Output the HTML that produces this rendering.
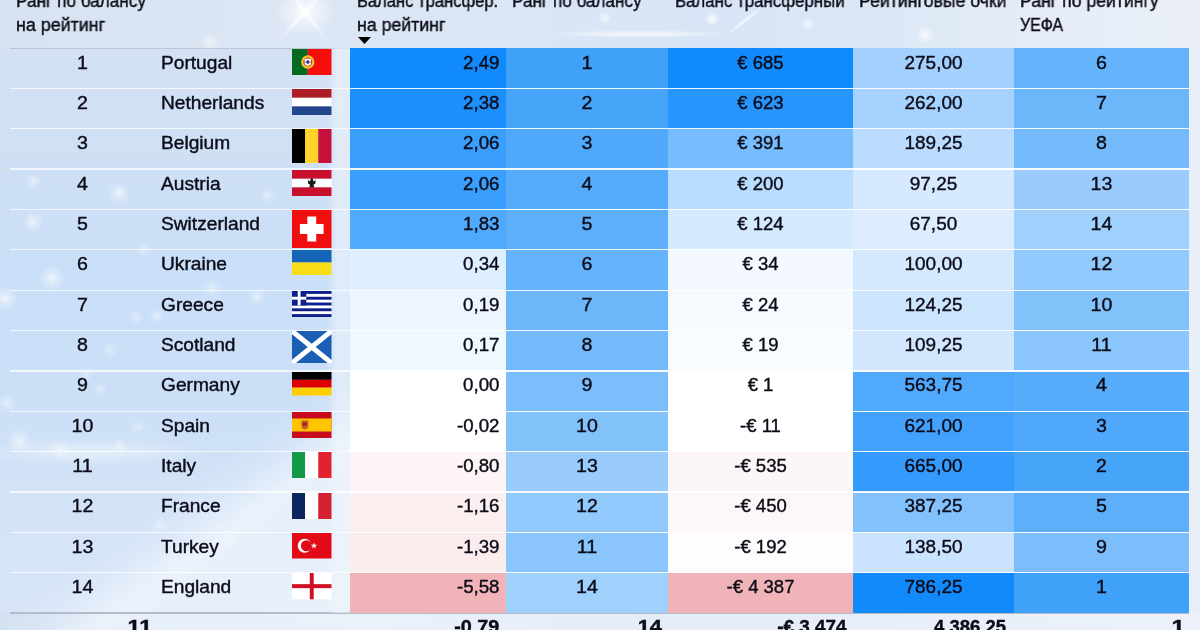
<!DOCTYPE html>
<html><head><meta charset="utf-8"><style>
*{margin:0;padding:0;box-sizing:border-box}
html,body{width:1200px;height:630px;overflow:hidden}
body{position:relative;font-family:"Liberation Sans",sans-serif;color:#0c0c18;
background:linear-gradient(90deg,#d3e1f2 0%,#dbe6f4 30%,#e2eaf5 60%,#e9eff8 100%);}
.bg{position:absolute}
.c{position:absolute}
.sep{position:absolute;height:1.3px;background:rgba(255,255,255,0.92)}
.t{position:absolute;will-change:transform;-webkit-text-stroke:0.4px #0c0c18;font-size:18.5px;line-height:40px;white-space:nowrap}
.sx{transform:scaleX(1.06);transform-origin:left center}
.ctr.sx{transform-origin:center center}
.rgt.sx{transform-origin:right center}
.ctr{text-align:center}
.rgt{text-align:right}
.h{position:absolute;will-change:transform;-webkit-text-stroke:0.4px #0c0c18;font-size:18.0px;line-height:24px;white-space:nowrap;transform-origin:left center}
.b{font-weight:bold}
</style></head><body>
<div class="bg" style="left:0;top:0;width:1200px;height:48px;background:linear-gradient(90deg,#d8e3f2 0%,#dce6f4 25%,#dae6f5 45%,#d8e5f6 60%,#dde8f6 75%,#e6edf7 88%,#ebf0f8 100%)"></div>
<div class="bg" style="left:540px;top:26px;width:200px;height:16px;background:radial-gradient(ellipse 95px 4px at 100px 8px,rgba(255,255,255,0.8),rgba(255,255,255,0))"></div>
<div class="bg" style="left:720px;top:18px;width:50px;height:5px;transform:rotate(-38deg);background:radial-gradient(ellipse 25px 2px at 25px 2.5px,rgba(255,255,255,0.85),rgba(255,255,255,0))"></div>
<div class="bg" style="left:0;top:0;width:1200px;height:48px;background:radial-gradient(circle 8px at 712px 19px,rgba(255,255,255,0.8),rgba(255,255,255,0)),radial-gradient(circle 7px at 808px 24px,rgba(255,255,255,0.6),rgba(255,255,255,0)),radial-gradient(circle 9px at 925px 35px,rgba(255,255,255,0.8),rgba(255,255,255,0)),radial-gradient(circle 7px at 605px 18px,rgba(255,255,255,0.6),rgba(255,255,255,0))"></div>
<div class="bg" style="left:0;top:48px;width:350px;height:565px;background:linear-gradient(180deg,#d3e1f3 0%,#cfe0f5 20%,#cadff8 40%,#cbdff7 62%,#d3e3f7 80%,#d8e5f8 100%)"></div>
<div class="bg" style="left:0;top:300px;width:350px;height:330px;background:linear-gradient(-36deg,rgba(236,242,250,0.9) 0%,rgba(234,241,250,0.8) 26%,rgba(250,252,255,0.6) 32%,rgba(255,255,255,0.15) 39%,rgba(255,255,255,0) 45%)"></div>
<div class="bg" style="left:0;top:420px;width:230px;height:60px;background:radial-gradient(ellipse 120px 14px at 90px 32px,rgba(255,255,255,0.45),rgba(255,255,255,0))"></div>
<div class="bg" style="left:350px;top:613px;width:850px;height:17px;background:linear-gradient(90deg,rgba(240,245,252,0.8) 0%,rgba(240,245,252,0.5) 20%,rgba(240,245,252,0.2) 40%,rgba(240,245,252,0.3) 70%,rgba(240,245,252,0.4) 100%)"></div>
<div class="bg" style="left:225px;top:-28px;width:160px;height:80px;background:radial-gradient(ellipse 30px 24px at 80px 40px,rgba(255,255,255,1),rgba(255,255,255,0.55) 35%,rgba(255,255,255,0) 100%)"></div>
<div class="bg" style="left:265px;top:9px;width:80px;height:6px;transform:rotate(-48deg);background:radial-gradient(ellipse 40px 3px at 40px 3px,rgba(255,255,255,0.9),rgba(255,255,255,0))"></div>
<div class="bg" style="left:265px;top:9px;width:80px;height:6px;transform:rotate(52deg);background:radial-gradient(ellipse 40px 3px at 40px 3px,rgba(255,255,255,0.9),rgba(255,255,255,0))"></div>
<div class="c" style="left:10px;top:47.5px;width:1179px;height:1.2px;background:#bcc5d3"></div>
<div class="c" style="left:10px;top:612.2px;width:1179px;height:1.6px;background:#b3bcc8"></div>
<div class="bg" style="left:0;top:0;width:350px;height:630px;background:radial-gradient(circle 8px at 33px 181px,rgba(255,255,255,0.5),rgba(255,255,255,0.25) 40%,rgba(255,255,255,0) 100%),radial-gradient(circle 11px at 119px 193px,rgba(255,255,255,0.7),rgba(255,255,255,0.35) 40%,rgba(255,255,255,0) 100%),radial-gradient(circle 11px at 33px 222px,rgba(255,255,255,0.65),rgba(255,255,255,0.33) 40%,rgba(255,255,255,0) 100%),radial-gradient(circle 13px at 52px 278px,rgba(255,255,255,0.7),rgba(255,255,255,0.35) 40%,rgba(255,255,255,0) 100%),radial-gradient(circle 13px at 5px 298px,rgba(255,255,255,0.7),rgba(255,255,255,0.35) 40%,rgba(255,255,255,0) 100%),radial-gradient(circle 8px at 143px 250px,rgba(255,255,255,0.4),rgba(255,255,255,0.20) 40%,rgba(255,255,255,0) 100%),radial-gradient(circle 8px at 136px 317px,rgba(255,255,255,0.4),rgba(255,255,255,0.20) 40%,rgba(255,255,255,0) 100%),radial-gradient(circle 8px at 110px 350px,rgba(255,255,255,0.4),rgba(255,255,255,0.20) 40%,rgba(255,255,255,0) 100%),radial-gradient(circle 10px at 7px 403px,rgba(255,255,255,0.5),rgba(255,255,255,0.25) 40%,rgba(255,255,255,0) 100%),radial-gradient(circle 8px at 86px 374px,rgba(255,255,255,0.4),rgba(255,255,255,0.20) 40%,rgba(255,255,255,0) 100%),radial-gradient(circle 8px at 100px 389px,rgba(255,255,255,0.4),rgba(255,255,255,0.20) 40%,rgba(255,255,255,0) 100%),radial-gradient(circle 13px at 19px 441px,rgba(255,255,255,0.6),rgba(255,255,255,0.30) 40%,rgba(255,255,255,0) 100%),radial-gradient(circle 8px at 138px 427px,rgba(255,255,255,0.4),rgba(255,255,255,0.20) 40%,rgba(255,255,255,0) 100%),radial-gradient(circle 8px at 119px 446px,rgba(255,255,255,0.45),rgba(255,255,255,0.23) 40%,rgba(255,255,255,0) 100%),radial-gradient(circle 11px at 60px 450px,rgba(255,255,255,0.5),rgba(255,255,255,0.25) 40%,rgba(255,255,255,0) 100%),radial-gradient(circle 10px at 210px 42px,rgba(255,255,255,0.6),rgba(255,255,255,0.30) 40%,rgba(255,255,255,0) 100%),radial-gradient(circle 8px at 157px 316px,rgba(255,255,255,0.45),rgba(255,255,255,0.23) 40%,rgba(255,255,255,0) 100%),radial-gradient(circle 10px at 212px 288px,rgba(255,255,255,0.5),rgba(255,255,255,0.25) 40%,rgba(255,255,255,0) 100%),radial-gradient(circle 10px at 257px 297px,rgba(255,255,255,0.5),rgba(255,255,255,0.25) 40%,rgba(255,255,255,0) 100%),radial-gradient(circle 8px at 267px 195px,rgba(255,255,255,0.45),rgba(255,255,255,0.23) 40%,rgba(255,255,255,0) 100%),radial-gradient(circle 10px at 230px 540px,rgba(255,255,255,0.4),rgba(255,255,255,0.20) 40%,rgba(255,255,255,0) 100%),radial-gradient(circle 8px at 160px 525px,rgba(255,255,255,0.35),rgba(255,255,255,0.17) 40%,rgba(255,255,255,0) 100%)"></div>
<div class="bg" style="left:326px;top:48px;width:24px;height:565px;background:linear-gradient(90deg,rgba(240,245,252,0) 0%,rgba(240,245,252,0.6) 50%,rgba(240,245,252,0.5) 100%)"></div>
<div class="c" style="left:350px;top:48.00px;width:156px;height:40.36px;background:#108afc"></div><div class="c" style="left:506px;top:48.00px;width:162px;height:40.36px;background:#40a1f9"></div><div class="c" style="left:668px;top:48.00px;width:185px;height:40.36px;background:#108afc"></div><div class="c" style="left:853px;top:48.00px;width:161px;height:40.36px;background:#a3d0fd"></div><div class="c" style="left:1014px;top:48.00px;width:175px;height:40.36px;background:#65b3fa"></div><div class="c" style="left:350px;top:88.36px;width:156px;height:40.36px;background:#1b8ffc"></div><div class="c" style="left:506px;top:88.36px;width:162px;height:40.36px;background:#47a5f9"></div><div class="c" style="left:668px;top:88.36px;width:185px;height:40.36px;background:#2695fc"></div><div class="c" style="left:853px;top:88.36px;width:161px;height:40.36px;background:#a7d2fd"></div><div class="c" style="left:1014px;top:88.36px;width:175px;height:40.36px;background:#6cb7fa"></div><div class="c" style="left:350px;top:128.71px;width:156px;height:40.36px;background:#399efd"></div><div class="c" style="left:506px;top:128.71px;width:162px;height:40.36px;background:#4fa8f9"></div><div class="c" style="left:668px;top:128.71px;width:185px;height:40.36px;background:#77bcfd"></div><div class="c" style="left:853px;top:128.71px;width:161px;height:40.36px;background:#bbdcfe"></div><div class="c" style="left:1014px;top:128.71px;width:175px;height:40.36px;background:#74bafb"></div><div class="c" style="left:350px;top:169.07px;width:156px;height:40.36px;background:#399efd"></div><div class="c" style="left:506px;top:169.07px;width:162px;height:40.36px;background:#56acfa"></div><div class="c" style="left:668px;top:169.07px;width:185px;height:40.36px;background:#b9ddfe"></div><div class="c" style="left:853px;top:169.07px;width:161px;height:40.36px;background:#d6e9fe"></div><div class="c" style="left:1014px;top:169.07px;width:175px;height:40.36px;background:#99ccfc"></div><div class="c" style="left:350px;top:209.43px;width:156px;height:40.36px;background:#4fa9fd"></div><div class="c" style="left:506px;top:209.43px;width:162px;height:40.36px;background:#5eaffa"></div><div class="c" style="left:668px;top:209.43px;width:185px;height:40.36px;background:#d4eafe"></div><div class="c" style="left:853px;top:209.43px;width:161px;height:40.36px;background:#deedfe"></div><div class="c" style="left:1014px;top:209.43px;width:175px;height:40.36px;background:#a0d0fc"></div><div class="c" style="left:350px;top:249.78px;width:156px;height:40.36px;background:#deefff"></div><div class="c" style="left:506px;top:249.78px;width:162px;height:40.36px;background:#65b3fa"></div><div class="c" style="left:668px;top:249.78px;width:185px;height:40.36px;background:#f3f9ff"></div><div class="c" style="left:853px;top:249.78px;width:161px;height:40.36px;background:#d5e9fe"></div><div class="c" style="left:1014px;top:249.78px;width:175px;height:40.36px;background:#91c9fc"></div><div class="c" style="left:350px;top:290.14px;width:156px;height:40.36px;background:#edf6ff"></div><div class="c" style="left:506px;top:290.14px;width:162px;height:40.36px;background:#6cb7fa"></div><div class="c" style="left:668px;top:290.14px;width:185px;height:40.36px;background:#f7fbff"></div><div class="c" style="left:853px;top:290.14px;width:161px;height:40.36px;background:#cee5fe"></div><div class="c" style="left:1014px;top:290.14px;width:175px;height:40.36px;background:#82c2fb"></div><div class="c" style="left:350px;top:330.50px;width:156px;height:40.36px;background:#eff7ff"></div><div class="c" style="left:506px;top:330.50px;width:162px;height:40.36px;background:#74bafb"></div><div class="c" style="left:668px;top:330.50px;width:185px;height:40.36px;background:#f8fcff"></div><div class="c" style="left:853px;top:330.50px;width:161px;height:40.36px;background:#d2e7fe"></div><div class="c" style="left:1014px;top:330.50px;width:175px;height:40.36px;background:#8ac5fb"></div><div class="c" style="left:350px;top:370.86px;width:156px;height:40.36px;background:#ffffff"></div><div class="c" style="left:506px;top:370.86px;width:162px;height:40.36px;background:#7bbefb"></div><div class="c" style="left:668px;top:370.86px;width:185px;height:40.36px;background:#ffffff"></div><div class="c" style="left:853px;top:370.86px;width:161px;height:40.36px;background:#51a9fd"></div><div class="c" style="left:1014px;top:370.86px;width:175px;height:40.36px;background:#56acfa"></div><div class="c" style="left:350px;top:411.21px;width:156px;height:40.36px;background:#ffffff"></div><div class="c" style="left:506px;top:411.21px;width:162px;height:40.36px;background:#82c2fb"></div><div class="c" style="left:668px;top:411.21px;width:185px;height:40.36px;background:#ffffff"></div><div class="c" style="left:853px;top:411.21px;width:161px;height:40.36px;background:#41a1fc"></div><div class="c" style="left:1014px;top:411.21px;width:175px;height:40.36px;background:#4fa8f9"></div><div class="c" style="left:350px;top:451.57px;width:156px;height:40.36px;background:#fdf4f5"></div><div class="c" style="left:506px;top:451.57px;width:162px;height:40.36px;background:#99ccfc"></div><div class="c" style="left:668px;top:451.57px;width:185px;height:40.36px;background:#fdf6f6"></div><div class="c" style="left:853px;top:451.57px;width:161px;height:40.36px;background:#349bfc"></div><div class="c" style="left:1014px;top:451.57px;width:175px;height:40.36px;background:#47a5f9"></div><div class="c" style="left:350px;top:491.93px;width:156px;height:40.36px;background:#fceff0"></div><div class="c" style="left:506px;top:491.93px;width:162px;height:40.36px;background:#91c9fc"></div><div class="c" style="left:668px;top:491.93px;width:185px;height:40.36px;background:#fdf7f8"></div><div class="c" style="left:853px;top:491.93px;width:161px;height:40.36px;background:#83c1fd"></div><div class="c" style="left:1014px;top:491.93px;width:175px;height:40.36px;background:#5eaffa"></div><div class="c" style="left:350px;top:532.28px;width:156px;height:40.36px;background:#fbeced"></div><div class="c" style="left:506px;top:532.28px;width:162px;height:40.36px;background:#8ac5fb"></div><div class="c" style="left:668px;top:532.28px;width:185px;height:40.36px;background:#fefcfc"></div><div class="c" style="left:853px;top:532.28px;width:161px;height:40.36px;background:#cae3fe"></div><div class="c" style="left:1014px;top:532.28px;width:175px;height:40.36px;background:#7bbefb"></div><div class="c" style="left:350px;top:572.64px;width:156px;height:40.36px;background:#f0b4b8"></div><div class="c" style="left:506px;top:572.64px;width:162px;height:40.36px;background:#a0d0fc"></div><div class="c" style="left:668px;top:572.64px;width:185px;height:40.36px;background:#f0b4b8"></div><div class="c" style="left:853px;top:572.64px;width:161px;height:40.36px;background:#128afc"></div><div class="c" style="left:1014px;top:572.64px;width:175px;height:40.36px;background:#40a1f9"></div>
<div class="sep" style="left:10px;width:340px;top:87.76px;background:rgba(255,255,255,0.75)"></div><div class="sep" style="left:350px;width:839px;top:87.76px"></div><div class="sep" style="left:10px;width:340px;top:128.11px;background:rgba(255,255,255,0.75)"></div><div class="sep" style="left:350px;width:839px;top:128.11px"></div><div class="sep" style="left:10px;width:340px;top:168.47px;background:rgba(255,255,255,0.75)"></div><div class="sep" style="left:350px;width:839px;top:168.47px"></div><div class="sep" style="left:10px;width:340px;top:208.83px;background:rgba(255,255,255,0.75)"></div><div class="sep" style="left:350px;width:839px;top:208.83px"></div><div class="sep" style="left:10px;width:340px;top:249.19px;background:rgba(255,255,255,0.75)"></div><div class="sep" style="left:350px;width:839px;top:249.19px"></div><div class="sep" style="left:10px;width:340px;top:289.54px;background:rgba(255,255,255,0.75)"></div><div class="sep" style="left:350px;width:839px;top:289.54px"></div><div class="sep" style="left:10px;width:340px;top:329.90px;background:rgba(255,255,255,0.75)"></div><div class="sep" style="left:350px;width:839px;top:329.90px"></div><div class="sep" style="left:10px;width:340px;top:370.26px;background:rgba(255,255,255,0.75)"></div><div class="sep" style="left:350px;width:839px;top:370.26px"></div><div class="sep" style="left:10px;width:340px;top:410.61px;background:rgba(255,255,255,0.75)"></div><div class="sep" style="left:350px;width:839px;top:410.61px"></div><div class="sep" style="left:10px;width:340px;top:450.97px;background:rgba(255,255,255,0.75)"></div><div class="sep" style="left:350px;width:839px;top:450.97px"></div><div class="sep" style="left:10px;width:340px;top:491.33px;background:rgba(255,255,255,0.75)"></div><div class="sep" style="left:350px;width:839px;top:491.33px"></div><div class="sep" style="left:10px;width:340px;top:531.68px;background:rgba(255,255,255,0.75)"></div><div class="sep" style="left:350px;width:839px;top:531.68px"></div><div class="sep" style="left:10px;width:340px;top:572.04px;background:rgba(255,255,255,0.75)"></div><div class="sep" style="left:350px;width:839px;top:572.04px"></div>
<svg style="position:absolute;left:292.3px;top:48.6px" width="39.5" height="26" viewBox="0 0 40 26" preserveAspectRatio="none"><rect width="16" height="26" fill="#05691f"/><rect x="16" width="24" height="26" fill="#f70d0d"/><circle cx="16" cy="13.0" r="5.6" fill="#e03018" stroke="#f0c830" stroke-width="2.2"/><path d="M12.8 9.8H19.2V14.0Q19.2 16.6 16 16.8Q12.8 16.6 12.8 14.0Z" fill="#fff"/><rect x="15" y="11.2" width="2" height="3.6" fill="#2a40a0"/><rect x="13.6" y="12.4" width="4.8" height="1.4" fill="#2a40a0"/></svg><svg style="position:absolute;left:292.3px;top:89px" width="39.5" height="26" viewBox="0 0 40 26" preserveAspectRatio="none"><rect width="40" height="26" fill="#fff"/><rect width="40" height="8.666666666666666" fill="#ae1c28"/><rect y="17.333333333333332" width="40" height="8.666666666666666" fill="#21468b"/></svg><svg style="position:absolute;left:292.3px;top:129.3px" width="39.5" height="34" viewBox="0 0 40 34" preserveAspectRatio="none"><rect width="13.4" height="34" fill="#000"/><rect x="13.3" width="13.4" height="34" fill="#fdd42a"/><rect x="26.6" width="13.4" height="34" fill="#c8103c"/></svg><svg style="position:absolute;left:292.3px;top:170px" width="39.5" height="26" viewBox="0 0 40 26" preserveAspectRatio="none"><rect width="40" height="26" fill="#fff"/><rect width="40" height="8.666666666666666" fill="#c8102e"/><rect y="17.333333333333332" width="40" height="8.666666666666666" fill="#c8102e"/><path d="M16 9.5Q17.5 12.0 18.5 11.0L18.8 8.5L21.2 8.5L21.5 11.0Q22.5 12.0 24 9.5L23.5 14.0L21.8 14.5L22.5 17.5L17.5 17.5L18.2 14.5L16.5 14.0Z" fill="#1a1a1a"/></svg><svg style="position:absolute;left:292.3px;top:210.2px" width="39.5" height="38" viewBox="0 0 40 38" preserveAspectRatio="none"><rect width="40" height="38" fill="#f00e0e"/><rect x="8" y="14.0" width="24" height="10" fill="#fff"/><rect x="15.5" y="6.5" width="9" height="25" fill="#fff"/></svg><svg style="position:absolute;left:292.3px;top:250.3px" width="39.5" height="25" viewBox="0 0 40 25" preserveAspectRatio="none"><rect width="40" height="12.5" fill="#1565b8"/><rect y="12.5" width="40" height="12.5" fill="#f7dc16"/></svg><svg style="position:absolute;left:292.3px;top:290.9px" width="39.5" height="26" viewBox="0 0 40 26" preserveAspectRatio="none"><rect width="40" height="26" fill="#fff"/><rect y="0.00" width="40" height="2.89" fill="#0c1f8c"/><rect y="5.78" width="40" height="2.89" fill="#0c1f8c"/><rect y="11.56" width="40" height="2.89" fill="#0c1f8c"/><rect y="17.33" width="40" height="2.89" fill="#0c1f8c"/><rect y="23.11" width="40" height="2.89" fill="#0c1f8c"/><rect width="14.44" height="14.44" fill="#0c1f8c"/><rect x="5.78" width="2.89" height="14.44" fill="#fff"/><rect y="5.78" width="14.44" height="2.89" fill="#fff"/></svg><svg style="position:absolute;left:292.3px;top:331px" width="39.5" height="32" viewBox="0 0 40 32" preserveAspectRatio="none"><rect width="40" height="32" fill="#1a5fb4"/><path d="M0 0L40 32M40 0L0 32" stroke="#fff" stroke-width="5"/></svg><svg style="position:absolute;left:292.3px;top:372px" width="39.5" height="23.5" viewBox="0 0 40 23.5" preserveAspectRatio="none"><rect width="40" height="7.833333333333333" fill="#000"/><rect y="7.833333333333333" width="40" height="7.833333333333333" fill="#dd0000"/><rect y="15.666666666666666" width="40" height="7.833333333333333" fill="#ffce00"/></svg><svg style="position:absolute;left:292.3px;top:412px" width="39.5" height="26" viewBox="0 0 40 26" preserveAspectRatio="none"><rect width="40" height="26" fill="#c60b1e"/><rect y="6.5" width="40" height="13.0" fill="#ffc400"/><path d="M9.5 8.5h7v5.5q0 3-3.5 3.5q-3.5-.5-3.5-3.5z" fill="#c0602a"/><rect x="11" y="10.5" width="4" height="3" fill="#b01828"/></svg><svg style="position:absolute;left:292.3px;top:452.2px" width="39.5" height="26.3" viewBox="0 0 40 26.3" preserveAspectRatio="none"><rect width="13.4" height="26.3" fill="#139a48"/><rect x="13.3" width="13.4" height="26.3" fill="#fff"/><rect x="26.6" width="13.4" height="26.3" fill="#e2222e"/></svg><svg style="position:absolute;left:292.3px;top:492.7px" width="39.5" height="26" viewBox="0 0 40 26" preserveAspectRatio="none"><rect width="13.4" height="26" fill="#0c2460"/><rect x="13.3" width="13.4" height="26" fill="#fff"/><rect x="26.6" width="13.4" height="26" fill="#d42030"/></svg><svg style="position:absolute;left:292.3px;top:533px" width="39.5" height="25.5" viewBox="0 0 40 25.5" preserveAspectRatio="none"><rect width="40" height="25.5" fill="#e30a17"/><circle cx="12.8" cy="12.75" r="7" fill="#fff"/><circle cx="14.6" cy="12.75" r="5.6" fill="#e30a17"/><polygon points="22.30,9.45 23.08,11.68 25.44,11.73 23.56,13.16 24.24,15.42 22.30,14.07 20.36,15.42 21.04,13.16 19.16,11.73 21.52,11.68" fill="#fff"/></svg><svg style="position:absolute;left:292.3px;top:573.3px" width="39.5" height="26.3" viewBox="0 0 40 26.3" preserveAspectRatio="none"><rect width="40" height="26.3" fill="#fff"/><rect x="18" width="4" height="26.3" fill="#ce1124"/><rect y="11.15" width="40" height="4" fill="#ce1124"/></svg>
<div class="t ctr sx" style="left:10px;width:145px;top:42.50px">1</div><div class="t" style="left:161.4px;top:42.50px;transform:scaleX(1.035);transform-origin:left center">Portugal</div><div class="t rgt" style="left:350px;width:149.5px;top:42.50px;transform:scaleX(1.01);transform-origin:right center">2,49</div><div class="t ctr sx" style="left:506px;width:162px;top:42.50px">1</div><div class="t ctr" style="left:668px;width:185px;top:42.50px">€ 685</div><div class="t ctr" style="left:853px;width:161px;top:42.50px;transform:scaleX(1.025)">275,00</div><div class="t ctr sx" style="left:1014px;width:175px;top:42.50px">6</div><div class="t ctr sx" style="left:10px;width:145px;top:82.86px">2</div><div class="t" style="left:161.4px;top:82.86px;transform:scaleX(1.035);transform-origin:left center">Netherlands</div><div class="t rgt" style="left:350px;width:149.5px;top:82.86px;transform:scaleX(1.01);transform-origin:right center">2,38</div><div class="t ctr sx" style="left:506px;width:162px;top:82.86px">2</div><div class="t ctr" style="left:668px;width:185px;top:82.86px">€ 623</div><div class="t ctr" style="left:853px;width:161px;top:82.86px;transform:scaleX(1.025)">262,00</div><div class="t ctr sx" style="left:1014px;width:175px;top:82.86px">7</div><div class="t ctr sx" style="left:10px;width:145px;top:123.21px">3</div><div class="t" style="left:161.4px;top:123.21px;transform:scaleX(1.035);transform-origin:left center">Belgium</div><div class="t rgt" style="left:350px;width:149.5px;top:123.21px;transform:scaleX(1.01);transform-origin:right center">2,06</div><div class="t ctr sx" style="left:506px;width:162px;top:123.21px">3</div><div class="t ctr" style="left:668px;width:185px;top:123.21px">€ 391</div><div class="t ctr" style="left:853px;width:161px;top:123.21px;transform:scaleX(1.025)">189,25</div><div class="t ctr sx" style="left:1014px;width:175px;top:123.21px">8</div><div class="t ctr sx" style="left:10px;width:145px;top:163.57px">4</div><div class="t" style="left:161.4px;top:163.57px;transform:scaleX(1.035);transform-origin:left center">Austria</div><div class="t rgt" style="left:350px;width:149.5px;top:163.57px;transform:scaleX(1.01);transform-origin:right center">2,06</div><div class="t ctr sx" style="left:506px;width:162px;top:163.57px">4</div><div class="t ctr" style="left:668px;width:185px;top:163.57px">€ 200</div><div class="t ctr" style="left:853px;width:161px;top:163.57px;transform:scaleX(1.025)">97,25</div><div class="t ctr sx" style="left:1014px;width:175px;top:163.57px">13</div><div class="t ctr sx" style="left:10px;width:145px;top:203.93px">5</div><div class="t" style="left:161.4px;top:203.93px;transform:scaleX(1.035);transform-origin:left center">Switzerland</div><div class="t rgt" style="left:350px;width:149.5px;top:203.93px;transform:scaleX(1.01);transform-origin:right center">1,83</div><div class="t ctr sx" style="left:506px;width:162px;top:203.93px">5</div><div class="t ctr" style="left:668px;width:185px;top:203.93px">€ 124</div><div class="t ctr" style="left:853px;width:161px;top:203.93px;transform:scaleX(1.025)">67,50</div><div class="t ctr sx" style="left:1014px;width:175px;top:203.93px">14</div><div class="t ctr sx" style="left:10px;width:145px;top:244.28px">6</div><div class="t" style="left:161.4px;top:244.28px;transform:scaleX(1.035);transform-origin:left center">Ukraine</div><div class="t rgt" style="left:350px;width:149.5px;top:244.28px;transform:scaleX(1.01);transform-origin:right center">0,34</div><div class="t ctr sx" style="left:506px;width:162px;top:244.28px">6</div><div class="t ctr" style="left:668px;width:185px;top:244.28px">€ 34</div><div class="t ctr" style="left:853px;width:161px;top:244.28px;transform:scaleX(1.025)">100,00</div><div class="t ctr sx" style="left:1014px;width:175px;top:244.28px">12</div><div class="t ctr sx" style="left:10px;width:145px;top:284.64px">7</div><div class="t" style="left:161.4px;top:284.64px;transform:scaleX(1.035);transform-origin:left center">Greece</div><div class="t rgt" style="left:350px;width:149.5px;top:284.64px;transform:scaleX(1.01);transform-origin:right center">0,19</div><div class="t ctr sx" style="left:506px;width:162px;top:284.64px">7</div><div class="t ctr" style="left:668px;width:185px;top:284.64px">€ 24</div><div class="t ctr" style="left:853px;width:161px;top:284.64px;transform:scaleX(1.025)">124,25</div><div class="t ctr sx" style="left:1014px;width:175px;top:284.64px">10</div><div class="t ctr sx" style="left:10px;width:145px;top:325.00px">8</div><div class="t" style="left:161.4px;top:325.00px;transform:scaleX(1.035);transform-origin:left center">Scotland</div><div class="t rgt" style="left:350px;width:149.5px;top:325.00px;transform:scaleX(1.01);transform-origin:right center">0,17</div><div class="t ctr sx" style="left:506px;width:162px;top:325.00px">8</div><div class="t ctr" style="left:668px;width:185px;top:325.00px">€ 19</div><div class="t ctr" style="left:853px;width:161px;top:325.00px;transform:scaleX(1.025)">109,25</div><div class="t ctr sx" style="left:1014px;width:175px;top:325.00px">11</div><div class="t ctr sx" style="left:10px;width:145px;top:365.36px">9</div><div class="t" style="left:161.4px;top:365.36px;transform:scaleX(1.035);transform-origin:left center">Germany</div><div class="t rgt" style="left:350px;width:149.5px;top:365.36px;transform:scaleX(1.01);transform-origin:right center">0,00</div><div class="t ctr sx" style="left:506px;width:162px;top:365.36px">9</div><div class="t ctr" style="left:668px;width:185px;top:365.36px">€ 1</div><div class="t ctr" style="left:853px;width:161px;top:365.36px;transform:scaleX(1.025)">563,75</div><div class="t ctr sx" style="left:1014px;width:175px;top:365.36px">4</div><div class="t ctr sx" style="left:10px;width:145px;top:405.71px">10</div><div class="t" style="left:161.4px;top:405.71px;transform:scaleX(1.035);transform-origin:left center">Spain</div><div class="t rgt" style="left:350px;width:149.5px;top:405.71px;transform:scaleX(1.01);transform-origin:right center">-0,02</div><div class="t ctr sx" style="left:506px;width:162px;top:405.71px">10</div><div class="t ctr" style="left:668px;width:185px;top:405.71px">-€ 11</div><div class="t ctr" style="left:853px;width:161px;top:405.71px;transform:scaleX(1.025)">621,00</div><div class="t ctr sx" style="left:1014px;width:175px;top:405.71px">3</div><div class="t ctr sx" style="left:10px;width:145px;top:446.07px">11</div><div class="t" style="left:161.4px;top:446.07px;transform:scaleX(1.035);transform-origin:left center">Italy</div><div class="t rgt" style="left:350px;width:149.5px;top:446.07px;transform:scaleX(1.01);transform-origin:right center">-0,80</div><div class="t ctr sx" style="left:506px;width:162px;top:446.07px">13</div><div class="t ctr" style="left:668px;width:185px;top:446.07px">-€ 535</div><div class="t ctr" style="left:853px;width:161px;top:446.07px;transform:scaleX(1.025)">665,00</div><div class="t ctr sx" style="left:1014px;width:175px;top:446.07px">2</div><div class="t ctr sx" style="left:10px;width:145px;top:486.43px">12</div><div class="t" style="left:161.4px;top:486.43px;transform:scaleX(1.035);transform-origin:left center">France</div><div class="t rgt" style="left:350px;width:149.5px;top:486.43px;transform:scaleX(1.01);transform-origin:right center">-1,16</div><div class="t ctr sx" style="left:506px;width:162px;top:486.43px">12</div><div class="t ctr" style="left:668px;width:185px;top:486.43px">-€ 450</div><div class="t ctr" style="left:853px;width:161px;top:486.43px;transform:scaleX(1.025)">387,25</div><div class="t ctr sx" style="left:1014px;width:175px;top:486.43px">5</div><div class="t ctr sx" style="left:10px;width:145px;top:526.78px">13</div><div class="t" style="left:161.4px;top:526.78px;transform:scaleX(1.035);transform-origin:left center">Turkey</div><div class="t rgt" style="left:350px;width:149.5px;top:526.78px;transform:scaleX(1.01);transform-origin:right center">-1,39</div><div class="t ctr sx" style="left:506px;width:162px;top:526.78px">11</div><div class="t ctr" style="left:668px;width:185px;top:526.78px">-€ 192</div><div class="t ctr" style="left:853px;width:161px;top:526.78px;transform:scaleX(1.025)">138,50</div><div class="t ctr sx" style="left:1014px;width:175px;top:526.78px">9</div><div class="t ctr sx" style="left:10px;width:145px;top:567.14px">14</div><div class="t" style="left:161.4px;top:567.14px;transform:scaleX(1.035);transform-origin:left center">England</div><div class="t rgt" style="left:350px;width:149.5px;top:567.14px;transform:scaleX(1.01);transform-origin:right center">-5,58</div><div class="t ctr sx" style="left:506px;width:162px;top:567.14px">14</div><div class="t ctr" style="left:668px;width:185px;top:567.14px">-€ 4 387</div><div class="t ctr" style="left:853px;width:161px;top:567.14px;transform:scaleX(1.025)">786,25</div><div class="t ctr sx" style="left:1014px;width:175px;top:567.14px">1</div>
<div class="h" style="left:15.9px;top:-10.6px;transform:scaleX(0.956)">Ранг по балансу</div><div class="h" style="left:15.9px;top:13.4px;transform:scaleX(0.992)">на рейтинг</div><div class="h" style="left:356.8px;top:-10.6px;transform:scaleX(0.921)">Баланс трансфер.</div><div class="h" style="left:356.8px;top:13.4px;transform:scaleX(0.984)">на рейтинг</div><div class="h" style="left:512.0px;top:-10.6px;transform:scaleX(0.953)">Ранг по балансу</div><div class="h" style="left:674.5px;top:-10.6px;transform:scaleX(0.936)">Баланс трансферный</div><div class="h" style="left:859.4px;top:-10.6px;transform:scaleX(0.983)">Рейтинговые очки</div><div class="h" style="left:1019.8px;top:-10.6px;transform:scaleX(0.980)">Ранг по рейтингу</div><div class="h" style="left:1019.8px;top:13.4px;transform:scaleX(0.882)">УЕФА</div>
<svg style="position:absolute;left:357.5px;top:36.7px" width="13" height="7"><path d="M0 0H13L6.5 7Z" fill="#000"/></svg>
<div class="t b rgt" style="left:10px;width:142px;top:607.0px;transform:scaleX(1.25);transform-origin:right center">11</div>
<div class="t b rgt" style="left:350px;width:149.3px;top:607.0px;transform:scaleX(1.07);transform-origin:right center">-0,79</div>
<div class="t b rgt" style="left:506px;width:156px;top:607.0px;transform:scaleX(1.18);transform-origin:right center">14</div>
<div class="t b rgt" style="left:668px;width:178.5px;top:607.0px;transform:scaleX(1.02);transform-origin:right center">-€ 3 474</div>
<div class="t b rgt" style="left:853px;width:153px;top:607.0px">4 386,25</div>
<div class="t b rgt" style="left:1014px;width:171px;top:607.0px;transform:scaleX(1.3);transform-origin:right center">1</div>
</body></html>
